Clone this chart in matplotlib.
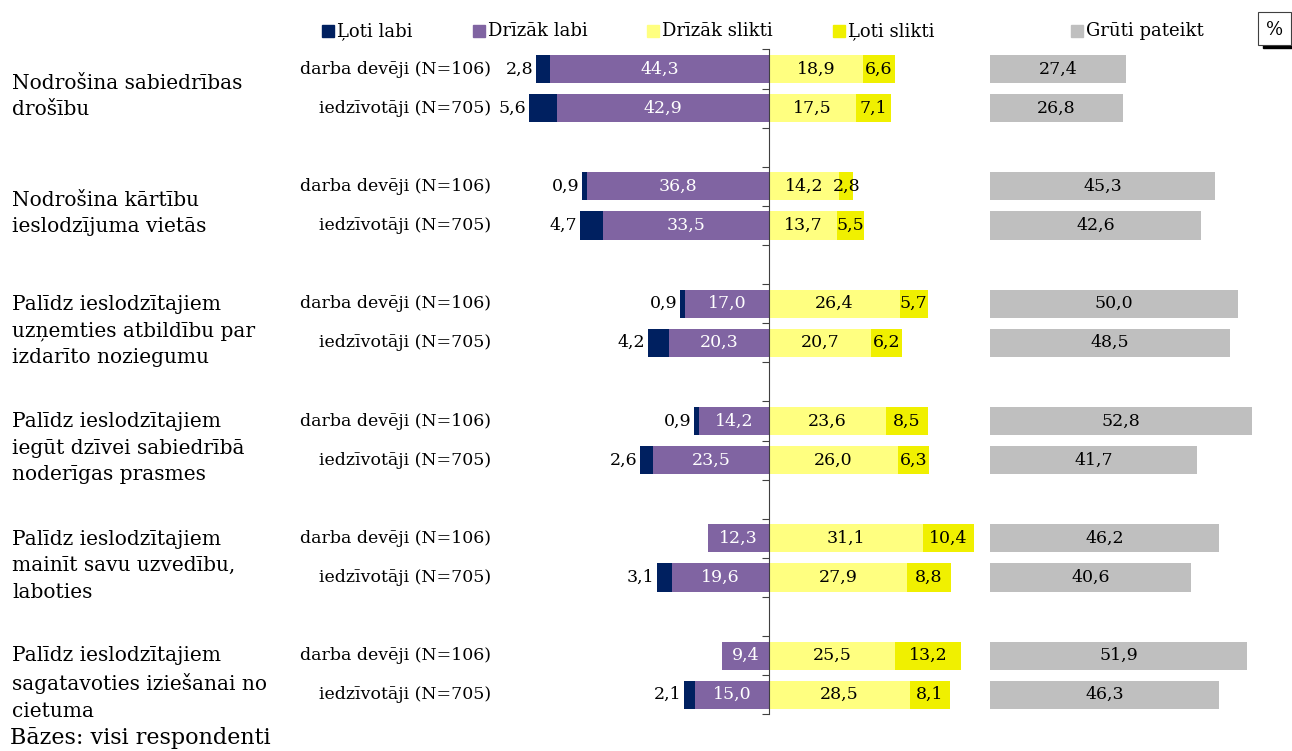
import numpy as np
import matplotlib.pyplot as plt
from matplotlib.patches import Rectangle
from matplotlib.transforms import blended_transform_factory

plt.rcParams['font.family'] = ['DejaVu Serif']

groups = ['Nodrošina sabiedrības\ndrošību',
          'Nodrošina kārtību\nieslodzījuma vietās',
          'Palīdz ieslodzītajiem\nuzņemties atbildību par\nizdarīto noziegumu',
          'Palīdz ieslodzītajiem\niegūt dzīvei sabiedrībā\nnoderīgas prasmes',
          'Palīdz ieslodzītajiem\nmainīt savu uzvedību,\nlaboties',
          'Palīdz ieslodzītajiem\nsagatavoties iziešanai no\ncietuma']
subgroups = ['darba devēji (N=106)', 'iedzīvotāji (N=705)']
series = ['Ļoti labi', 'Drīzāk labi', 'Drīzāk slikti', 'Ļoti slikti', 'Grūti pateikt']

# rows: group1 darba, group1 iedz, group2 darba, ...
loti_labi     = [2.8, 5.6, 0.9, 4.7, 0.9, 4.2, 0.9, 2.6, 0.0, 3.1, 0.0, 2.1]
drizak_labi   = [44.3, 42.9, 36.8, 33.5, 17.0, 20.3, 14.2, 23.5, 12.3, 19.6, 9.4, 15.0]
drizak_slikti = [18.9, 17.5, 14.2, 13.7, 26.4, 20.7, 23.6, 26.0, 31.1, 27.9, 25.5, 28.5]
loti_slikti   = [6.6, 7.1, 2.8, 5.5, 5.7, 6.2, 8.5, 6.3, 10.4, 8.8, 13.2, 8.1]
gruti         = [27.4, 26.8, 45.3, 42.6, 50.0, 48.5, 52.8, 41.7, 46.2, 40.6, 51.9, 46.3]

colors = ['#002060', '#8064A2', '#FFFF80', '#F0F000', '#BFBFBF']

def fmt(v):
    return f'{v:.1f}'.replace('.', ',')

W, H = 1292, 751
fig = plt.figure(figsize=(W / 100, H / 100), dpi=100)

# axes placement (pixels): zero line at x=769, ~4.95 px per %
px_per = 4.95
x0_px = 769
ax_left, ax_right = 500, 1290
ax = fig.add_axes([ax_left / W, 1 - 714.3 / H, (ax_right - ax_left) / W, (714.3 - 49.5) / H])
ax.set_xlim(-(x0_px - ax_left) / px_per, (ax_right - x0_px) / px_per)
ax.set_ylim(16.5, -0.5)

gruti_start = 44.7

ypos = []
for g in range(len(groups)):
    ypos += [g * 3, g * 3 + 1]
ypos = np.array(ypos)

ll = np.array(loti_labi)
dl = np.array(drizak_labi)
ds = np.array(drizak_slikti)
ls = np.array(loti_slikti)
gp = np.array(gruti)

h = 0.72
ax.barh(ypos, -dl, height=h, color=colors[1])
ax.barh(ypos, -ll, left=-dl, height=h, color=colors[0])
ax.barh(ypos, ds, height=h, color=colors[2])
ax.barh(ypos, ls, left=ds, height=h, color=colors[3])
ax.barh(ypos, gp, left=gruti_start, height=h, color=colors[4])

fs = 12.5
for i, y in enumerate(ypos):
    if ll[i] > 0:
        ax.annotate(fmt(ll[i]), (-(dl[i] + ll[i]), y), xytext=(-2, 0),
                    textcoords='offset points', ha='right', va='center', fontsize=fs)
    ax.text(-dl[i] / 2, y, fmt(dl[i]), ha='center', va='center', color='white', fontsize=fs)
    ax.text(ds[i] / 2, y, fmt(ds[i]), ha='center', va='center', fontsize=fs)
    ax.text(ds[i] + ls[i] / 2, y, fmt(ls[i]), ha='center', va='center', fontsize=fs)
    ax.text(gruti_start + gp[i] / 2, y, fmt(gp[i]), ha='center', va='center', fontsize=fs)

# center axis
for s in ['top', 'right', 'bottom']:
    ax.spines[s].set_visible(False)
ax.spines['left'].set_position(('data', 0))
ax.spines['left'].set_color('#404040')
ax.set_yticks(np.arange(-0.5, 17, 1))
ax.tick_params(axis='y', direction='out', length=5, color='#404040', labelleft=False)
ax.set_xticks([])

# row labels and group titles
tr = blended_transform_factory(fig.transFigure, ax.transData)
for i, y in enumerate(ypos):
    ax.text(491 / W, y, subgroups[i % 2], transform=tr, ha='right', va='center', fontsize=fs)
for g, name in enumerate(groups):
    ax.text(12 / W, g * 3 + 0.5 + 0.2, name, transform=tr, ha='left', va='center',
            fontsize=14.5, linespacing=1.5)

fig.text(10 / W, 1 - 738 / H, 'Bāzes: visi respondenti', ha='left', va='center', fontsize=16)

# legend
leg_pos = [322, 473, 647, 833, 1071]
leg_y = 31
for x, name, c in zip(leg_pos, series, colors):
    fig.patches.append(Rectangle((x / W, 1 - 37 / H), 12 / W, 12 / H, color=c,
                                 transform=fig.transFigure, figure=fig))
    fig.text((x + 15) / W, 1 - leg_y / H, name, ha='left', va='center', fontsize=13)

# % box
fig.patches.append(Rectangle((1263 / W, 1 - 48 / H), 29 / W, 4 / H, color='black',
                             transform=fig.transFigure, figure=fig))
fig.patches.append(Rectangle((1258 / W, 1 - 45 / H), 33 / W, 33 / H, facecolor='white',
                             edgecolor='#404040', lw=0.8, transform=fig.transFigure, figure=fig))
fig.text(1275 / W, 1 - 30 / H, '%', ha='center', va='center', fontsize=13)

fig.savefig('out.png', dpi=100)
